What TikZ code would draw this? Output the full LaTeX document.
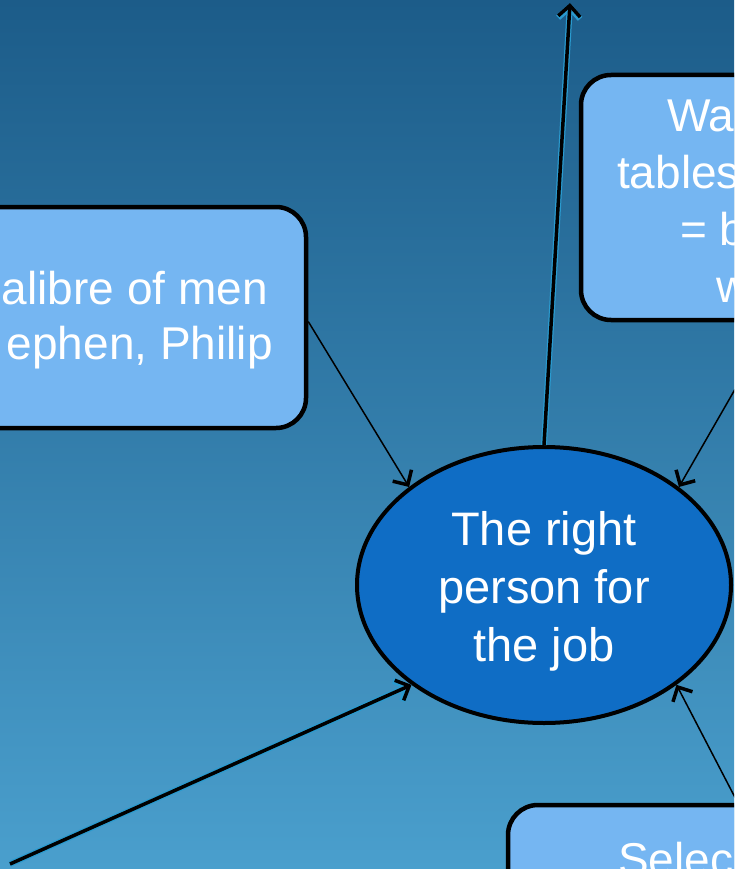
\documentclass[tikz,border=0pt]{standalone}
\usepackage{fontspec}
\setmainfont{Liberation Sans}
\usetikzlibrary{arrows.meta,shapes.geometric}
\definecolor{bgtop}{HTML}{1C5C89}
\definecolor{bgbot}{HTML}{4A9FCD}
\definecolor{boxfill}{HTML}{75B6F2}
\definecolor{ellfill}{HTML}{0F6DC5}
\definecolor{glow}{HTML}{2A9BD0}
\tikzset{
 box/.style={draw=black, line width=4.5pt, fill=boxfill, rounded corners=30pt, rectangle, inner sep=0pt},
 txt/.style={text=white, font=\fontsize{46}{55}\selectfont, inner sep=0pt},
 thinarrow/.style={draw=black, line width=1.5pt, -{Straight Barb[length=11pt,width=22pt,line width=3.5pt]}},
 thickarrow/.style={draw=black, line width=3.5pt,
   preaction={draw=glow, line width=6pt, -{Straight Barb[length=11pt,width=22pt,line width=6pt]}},
   -{Straight Barb[length=11pt,width=22pt,line width=3.5pt]}},
}
\begin{document}
\begin{tikzpicture}[x=1pt,y=-1pt]
\useasboundingbox (0,0) rectangle (734,869);
\clip (0,0) rectangle (734,869);
\shade[top color=bgtop,bottom color=bgbot] (0,0) rectangle (734,869);

% boxes
\node[box, minimum width=506pt, minimum height=221pt] (lb) at (53,317.5) {};
\node[txt, align=right, anchor=east] (lt) at (273,320.5) {alibre of men\kern5pt\\ephen, Philip};

\node[box, minimum width=369pt, minimum height=245pt] (rb) at (765.5,197.5) {};
\node[txt, anchor=base west] (r1) at (667,132) {Wa};
\node[txt, anchor=base west] (r2) at (617,188) {tables};
\node[txt, anchor=base west] (r3) at (680,245) {= b};
\node[txt, anchor=base west] (r4) at (716,302) {w};

\node[box, minimum width=400pt, minimum height=200pt] (bb) at (708,905) {};
\node[txt, anchor=base west] (b1) at (618,875) {Selec};

% central ellipse
\node[ellipse, draw=black, line width=4pt, fill=ellfill, minimum width=374pt, minimum height=276pt, inner sep=0pt] (c) at (544,585) {};
\node[txt, font=\fontsize{47}{58}\selectfont, align=center] (ct) at (544,591) {The right\\person for\\the job};

% connectors
\coordinate (topend) at (570,3);
\coordinate (blstart) at (10,864);
\draw[thinarrow] ([yshift=-4pt]lb.east) -- (c.144);
\draw[thinarrow] ([xshift=8pt]rb.south) -- (c.36);
\draw[thinarrow] ([xshift=232pt]bb.north west) -- (c.-37);
\draw[thickarrow] (c.north) -- (topend);
\draw[thickarrow] (blstart) -- (c.217);
\end{tikzpicture}
\end{document}
